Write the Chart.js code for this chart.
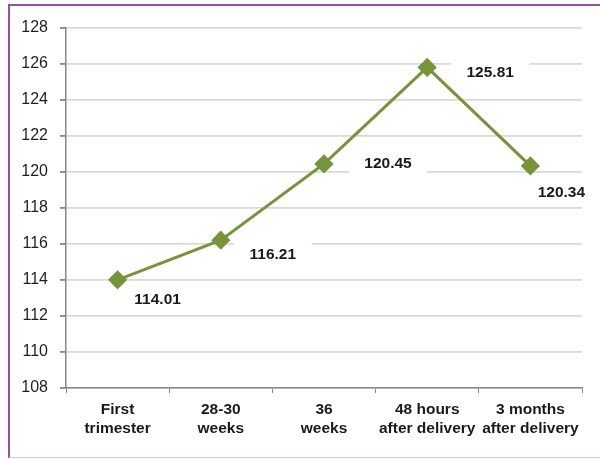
<!DOCTYPE html>
<html>
<head>
<meta charset="utf-8">
<script src="https://cdn.jsdelivr.net/npm/chart.js@4/dist/chart.umd.min.js"></script>
<style>
  html, body { margin: 0; padding: 0; background: #fff; }
  #wrap { position: relative; width: 600px; height: 459px; }
  #frame { position: absolute; left: 8px; top: 4px; width: 592px; height: 454px; border-left: 2px solid #9b4f9b; border-top: 2px solid #9b4f9b; border-bottom: 1.5px solid #dcc3e4; box-sizing: border-box; pointer-events: none; }
  canvas { position: absolute; left: 0; top: 0; }
</style>
</head>
<body>
<div id="wrap">
  <canvas id="c" width="600" height="459"></canvas>
  <div id="frame"></div>
</div>
<script>
const categories = [["First", "trimester"], ["28-30", "weeks"], ["36", "weeks"], ["48 hours", "after delivery"], ["3 months", "after delivery"]];
const values = [114.01, 116.21, 120.45, 125.81, 120.34];
const valueLabels = ["114.01", "116.21", "120.45", "125.81", "120.34"];
const yMin = 108, yMax = 128, yStep = 2;

// label offsets from points (pixels)
const labelOffsets = [[40, 20], [52, 14], [64, 0], [63, 5], [31, 27]];

const dataLabelPlugin = {
  id: 'dataLabels',
  afterDatasetsDraw(chart) {
    const ctx = chart.ctx;
    const meta = chart.getDatasetMeta(0);
    ctx.save();
    ctx.font = 'bold 15.5px "Liberation Sans", Arial, sans-serif';
    ctx.textAlign = 'center';
    ctx.textBaseline = 'middle';
    meta.data.forEach((pt, i) => {
      const x = pt.x + labelOffsets[i][0];
      const y = pt.y + labelOffsets[i][1];
      ctx.fillStyle = '#ffffff';
      ctx.fillRect(x - 39, y - 12, 78, 24);
      ctx.fillStyle = '#1a1a1a';
      ctx.fillText(valueLabels[i], x, y);
    });
    ctx.restore();
  }
};

new Chart(document.getElementById('c'), {
  type: 'line',
  data: {
    labels: categories,
    datasets: [{
      data: values,
      borderColor: '#77933c',
      backgroundColor: '#77933c',
      borderWidth: 3,
      pointStyle: 'rectRot',
      pointRadius: 7.5,
      pointHoverRadius: 7.5,
      pointBackgroundColor: '#77933c',
      pointBorderColor: '#77933c',
      tension: 0,
      fill: false
    }]
  },
  options: {
    responsive: false,
    animation: false,
    events: [],
    layout: { padding: { left: 8, top: 28, right: 18, bottom: 4 } },
    plugins: { legend: { display: false }, tooltip: { enabled: false } },
    scales: {
      x: {
        type: 'category',
        offset: true,
        afterFit(s) { s.height = 67; },
        grid: { offset: true, drawOnChartArea: false, drawTicks: true, tickLength: 5, tickColor: '#868686', lineWidth: 1 },
        border: { display: true, color: '#868686', width: 1.5 },
        ticks: {
          color: '#1a1a1a',
          padding: 7,
          maxRotation: 0,
          autoSkip: false,
          font: { family: '"Liberation Sans", Arial, sans-serif', size: 15.5, weight: 'bold', lineHeight: 1.25 }
        }
      },
      y: {
        min: yMin,
        max: yMax,
        afterFit(s) { s.width = 58; },
        grid: { color: '#d9d9d9', lineWidth: 1.8, drawTicks: true, tickLength: 6, tickColor: '#868686' },
        border: { display: true, color: '#868686', width: 1.5 },
        ticks: {
          stepSize: yStep,
          color: '#1f1f1f',
          padding: 12,
          font: { family: '"Liberation Sans", Arial, sans-serif', size: 16 }
        }
      }
    }
  },
  plugins: [dataLabelPlugin]
});
</script>
</body>
</html>
